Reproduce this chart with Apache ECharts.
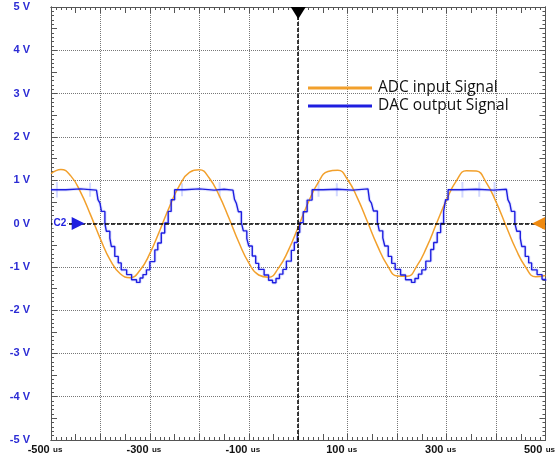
<!DOCTYPE html>
<html>
<head>
<meta charset="utf-8">
<script src="https://cdn.jsdelivr.net/npm/echarts@6/dist/echarts.min.js"></script>
<style>
  html, body { margin: 0; padding: 0; background: #fff; }
  #chart { width: 558px; height: 457px; }
</style>
</head>
<body>
<div id="chart"></div>
<script>
// ADC input (orange), sampled every 20 us
var adcTime = [-500,-480,-460,-440,-420,-400,-380,-360,-340,-320,-300,-280,-260,-240,-220,-200,-180,-160,-140,-120,
  -100,-80,-60,-40,-20,0,20,40,60,80,100,120,140,160,180,200,220,240,260,280,300,320,340,360,380,400,420,440,460,480,500];
var adcVolt = [1.15,1.25,1.10,0.72,0.20,-0.36,-0.85,-1.16,-1.25,-1.08,-0.69,-0.16,0.40,0.88,1.18,1.24,1.05,0.65,0.12,-0.44,
  -0.91,-1.19,-1.24,-1.03,-0.62,-0.08,0.48,0.94,1.20,1.23,1.01,0.58,0.04,-0.51,-0.96,-1.21,-1.22,-0.98,-0.54,0.01,0.55,0.99,1.22,1.21,0.95,0.50,-0.05,-0.59,-1.01,-1.23,-1.20];

// DAC output (blue), staircase points
var dacTime = [-500,-470,-440,
  -408,-405,-401,-398,-391,-388,-381,-378,-371,-364,-358,-347,-337,-327,-320,-314,-307,-300,-290,-284,-277,-270,-263,-257,-250,
  -230,-200,-170,-150,
  -132,-129,-125,-121,-115,-111,-104,-100,-93,-86,-80,-69,-60,-52,-45,-38,-31,-24,-14,-8,-2,3,10,18,28,
  50,80,110,
  141,144,148,152,160,164,171,175,182,189,196,207,217,229,236,243,250,258,268,274,281,288,294,298,303,
  330,360,395,
  421,424,428,431,438,442,449,452,459,466,472,483,493,500];
var dacVolt = [0.78,0.80,0.77,
  0.78,0.55,0.47,0.28,0.00,-0.18,-0.34,-0.53,-0.76,-0.91,-1.07,-1.18,-1.30,-1.36,-1.26,-1.18,-1.07,-0.88,-0.61,-0.45,-0.22,0.01,0.28,0.55,0.78,
  0.80,0.77,0.79,0.77,
  0.78,0.56,0.46,0.27,0.02,-0.17,-0.35,-0.52,-0.75,-0.92,-1.06,-1.19,-1.31,-1.37,-1.27,-1.17,-1.06,-0.87,-0.62,-0.44,-0.21,0.02,0.27,0.54,0.78,
  0.79,0.77,0.80,
  0.78,0.54,0.47,0.29,0.03,-0.17,-0.33,-0.52,-0.76,-0.92,-1.06,-1.19,-1.30,-1.36,-1.27,-1.17,-1.07,-0.87,-0.60,-0.44,-0.21,0.00,0.28,0.55,0.78,
  0.79,0.77,0.79,
  0.78,0.55,0.46,0.28,0.01,-0.18,-0.34,-0.53,-0.76,-0.91,-1.07,-1.18,-1.29,-1.32];

// faint glitches on the DAC plateaus
var spikeTime = [-488,-421,-235,-159,41,78,332,366,397];
var spikeLow = [0.60,0.62,0.63,0.60,0.62,0.63,0.60,0.62,0.60];
var spikeHigh = [0.96,0.94,0.93,0.96,0.95,0.93,0.96,0.95,0.96];

var xLabels = [-500,-300,-100,100,300,500];

var ORANGE = '#f2a02c';
var BLUE = '#1e1ee0';
var AXIS = '#555';

var adcData = adcTime.map(function (t, i) { return [t, adcVolt[i]]; });
var dacData = dacTime.map(function (t, i) { return [t, dacVolt[i]]; });
var spikeData = [];
spikeTime.forEach(function (t, i) {
  spikeData.push([t, spikeLow[i]], [t, spikeHigh[i]], [t, '-']);
});

function tickAxis(kind, pos, interval, len) {
  return {
    type: 'value', min: kind === 'x' ? -500 : -5, max: kind === 'x' ? 500 : 5,
    interval: interval, position: pos,
    axisLine: { show: true, onZero: false, lineStyle: { color: AXIS, width: 1 } },
    axisTick: { show: true, inside: true, length: len, lineStyle: { color: AXIS } },
    axisLabel: { show: false },
    splitLine: { show: false }
  };
}

var xMain = tickAxis('x', 'bottom', 100, 0);
xMain.minorTick = { show: true, splitNumber: 10, length: 3, lineStyle: { color: AXIS } };
xMain.splitLine = { show: true, lineStyle: { type: 'dotted', color: '#777', width: 1 } };
xMain.axisLabel = {
  show: true, margin: 4, padding: [0, 12, 0, 0],
  formatter: function (v) {
    return xLabels.indexOf(v) >= 0 ? '{n|' + v + '} {u|us}' : '';
  },
  rich: {
    n: { fontSize: 11, fontWeight: 'bold', color: '#111', fontFamily: 'Liberation Sans' },
    u: { fontSize: 8, fontWeight: 'bold', color: '#111', fontFamily: 'Liberation Sans' }
  }
};
var xTop = tickAxis('x', 'top', 100, 0);
xTop.minorTick = { show: true, splitNumber: 10, length: 3, lineStyle: { color: AXIS } };

var yMain = tickAxis('y', 'left', 1, 0);
yMain.minorTick = { show: true, splitNumber: 10, length: 3, lineStyle: { color: AXIS } };
yMain.splitLine = { show: true, lineStyle: { type: 'dotted', color: '#777', width: 1 } };
yMain.axisLabel = {
  show: true, margin: 21, color: '#2b2bd4', fontSize: 11, fontWeight: 'bold',
  fontFamily: 'Liberation Sans',
  formatter: function (v) { return v + ' V'; }
};
var yRight = tickAxis('y', 'right', 1, 0);
yRight.minorTick = { show: true, splitNumber: 10, length: 3, lineStyle: { color: AXIS } };

var chart = echarts.init(document.getElementById('chart'), null, { renderer: 'canvas' });

chart.setOption({
  backgroundColor: '#fff',
  animation: false,
  grid: { left: 51, right: 12, top: 7, bottom: 17, containLabel: false },
  legend: {
    data: ['ADC input Signal', 'DAC output Signal'],
    orient: 'vertical', left: 303, top: 75,
    icon: 'rect', itemWidth: 64, itemHeight: 3, itemGap: 2,
    textStyle: { fontFamily: 'Open Sans', fontSize: 15.5, color: '#111', lineHeight: 16, padding: [0, 0, 0, 1] }
  },
  xAxis: [xMain, tickAxis('x', 'bottom', 50, 6), xTop, tickAxis('x', 'top', 50, 6)],
  yAxis: [yMain, tickAxis('y', 'left', 0.5, 6), yRight, tickAxis('y', 'right', 0.5, 6)],
  series: [
    {
      name: 'glitch', type: 'line', data: spikeData, symbol: 'none', silent: true,
      lineStyle: { color: 'rgba(110,130,255,0.3)', width: 2 }, z: 1
    },
    {
      name: 'shadow', type: 'line', data: dacData, step: 'end', symbol: 'none', silent: true,
      lineStyle: { color: 'rgba(110,130,255,0.18)', width: 3.5 }, z: 1
    },
    {
      name: 'ADC input Signal', type: 'line', data: adcData, smooth: true, symbol: 'none',
      color: ORANGE, lineStyle: { color: ORANGE, width: 1.5 }, z: 3,
      markLine: {
        silent: true, symbol: 'none', label: { show: false },
        lineStyle: { color: '#000', type: [4, 2], width: 1.5 },
        data: [{ xAxis: 0 }, { yAxis: 0 }]
      }
    },
    {
      name: 'DAC output Signal', type: 'line', data: dacData, step: 'end', symbol: 'none',
      color: BLUE, lineStyle: { color: BLUE, width: 1.4 }, z: 4,
      markPoint: {
        silent: true,
        data: [
          { coord: [0, 5], symbol: 'triangle', symbolSize: [15, 12], symbolRotate: 180, symbolOffset: [0, 6],
            itemStyle: { color: '#000' }, label: { show: false } },
          { coord: [-445, 0], symbol: 'triangle', symbolSize: [13, 13], symbolRotate: -90,
            itemStyle: { color: BLUE }, label: { show: false } },
          { coord: [486, 0], symbol: 'triangle', symbolSize: [13, 13], symbolRotate: 90,
            itemStyle: { color: '#f08a10' }, label: { show: false } },
          { coord: [-482, 0], symbol: 'rect', symbolSize: 1, itemStyle: { color: 'rgba(0,0,0,0)' },
            label: { show: true, position: 'inside', formatter: 'C2', color: BLUE, fontSize: 10,
              fontWeight: 'bold', fontFamily: 'Liberation Sans', backgroundColor: '#fff', padding: [0, 1] } }
        ]
      }
    }
  ]
});
</script>
</body>
</html>
